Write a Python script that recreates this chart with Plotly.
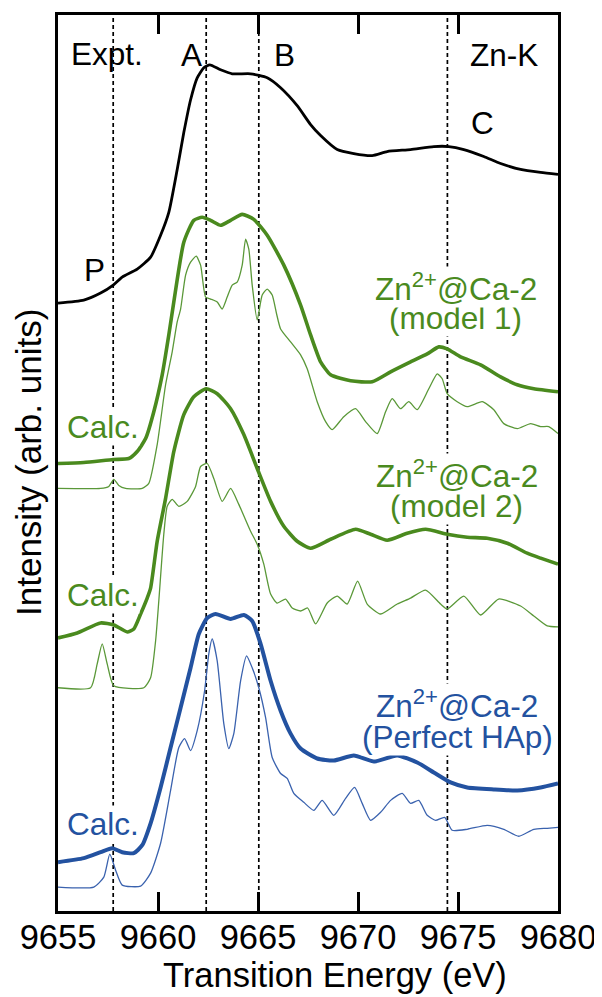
import plotly.graph_objects as go

# ---------------- data (energy in eV, intensity in arb. units) ----------------
expt_e = [9655.0, 9656.29, 9657.13, 9657.76, 9658.21, 9658.96, 9659.63, 9660.13, 9660.54, 9660.96,
          9661.29, 9661.63, 9661.96, 9662.29, 9662.59, 9663.13, 9663.71, 9664.63, 9665.46, 9666.13,
          9666.96, 9667.63, 9668.13, 9668.96, 9669.79, 9670.71, 9671.46, 9672.63, 9673.79, 9674.54,
          9675.29, 9676.29, 9677.13, 9678.13, 9679.13, 9680.0]
expt_i = [6.10, 6.13, 6.20, 6.28, 6.36, 6.44, 6.56, 6.78, 7.01, 7.44,
          7.81, 8.14, 8.36, 8.46, 8.49, 8.44, 8.40, 8.40, 8.36, 8.26,
          8.08, 7.89, 7.78, 7.64, 7.60, 7.58, 7.62, 7.64, 7.67, 7.67,
          7.64, 7.57, 7.50, 7.44, 7.41, 7.39]

m1_broad_e = [9655.0, 9656.29, 9657.76, 9658.54, 9658.96, 9659.38, 9659.79, 9660.21, 9660.54, 9660.79,
              9661.29, 9661.79, 9662.21, 9662.63, 9663.13, 9663.63, 9664.21, 9664.79, 9665.46, 9666.29,
              9667.13, 9667.63, 9668.13, 9668.63, 9669.63, 9670.71, 9671.63, 9672.63, 9673.46, 9674.04,
              9674.46, 9675.13, 9676.13, 9677.13, 9677.96, 9678.79, 9680.0]
m1_broad_i = [4.49, 4.50, 4.53, 4.54, 4.61, 4.74, 5.01, 5.38, 5.78, 6.11,
              6.71, 6.93, 6.96, 6.93, 6.88, 6.93, 6.99, 6.94, 6.78, 6.48,
              6.08, 5.78, 5.51, 5.38, 5.32, 5.31, 5.41, 5.51, 5.59, 5.66,
              5.64, 5.56, 5.48, 5.36, 5.28, 5.24, 5.21]

m1_sharp_e = [9655.0, 9657.13, 9657.54, 9657.79, 9658.04, 9658.38, 9659.21, 9659.54, 9659.96, 9660.38,
              9660.71, 9660.96, 9661.13, 9661.38, 9661.63, 9661.91, 9662.13, 9662.38, 9662.63, 9662.96,
              9663.21, 9663.46, 9663.71, 9663.96, 9664.21, 9664.38, 9664.54, 9664.71, 9664.96, 9665.21,
              9665.46, 9665.71, 9665.93, 9666.13, 9666.63, 9667.13, 9667.46, 9667.96, 9668.38, 9668.71,
              9669.29, 9669.88, 9670.38, 9670.96, 9671.38, 9671.71, 9672.13, 9672.54, 9672.96, 9673.54,
              9673.96, 9674.21, 9674.46, 9674.96, 9675.46, 9676.21, 9676.79, 9677.29, 9677.96, 9678.63,
              9679.13, 9679.54, 9680.0]
m1_sharp_i = [4.24, 4.24, 4.26, 4.33, 4.27, 4.24, 4.24, 4.29, 4.68, 5.28,
              5.61, 5.91, 6.04, 6.38, 6.51, 6.57, 6.48, 6.16, 6.14, 6.11,
              6.04, 6.16, 6.28, 6.31, 6.48, 6.74, 6.64, 6.28, 5.93, 6.18,
              6.24, 6.18, 5.99, 5.84, 5.71, 5.58, 5.44, 5.11, 4.91, 4.83,
              4.96, 5.04, 4.91, 4.79, 5.01, 5.14, 5.04, 5.11, 5.03, 5.24,
              5.39, 5.34, 5.19, 5.11, 5.06, 5.11, 5.03, 4.89, 4.84, 4.89,
              4.86, 4.86, 4.79]

m2_broad_e = [9655.0, 9655.96, 9657.13, 9657.79, 9658.46, 9658.79, 9659.13, 9659.46, 9659.63, 9659.96,
              9660.38, 9660.79, 9661.29, 9661.79, 9662.41, 9662.96, 9663.63, 9664.29, 9664.96, 9665.63,
              9666.29, 9666.96, 9667.63, 9668.63, 9669.88, 9670.63, 9671.46, 9672.46, 9673.38, 9674.46,
              9675.46, 9676.46, 9677.46, 9678.46, 9679.13, 9680.0]
m2_broad_i = [2.74, 2.79, 2.89, 2.87, 2.80, 2.83, 2.98, 3.14, 3.24, 3.71,
              4.14, 4.61, 4.98, 5.16, 5.24, 5.19, 5.04, 4.78, 4.44, 4.11,
              3.86, 3.71, 3.64, 3.73, 3.83, 3.78, 3.72, 3.79, 3.83, 3.78,
              3.75, 3.74, 3.69, 3.59, 3.54, 3.48]

m2_sharp_e = [9655.0, 9656.63, 9656.96, 9657.21, 9657.46, 9657.79, 9659.29, 9659.63, 9659.88, 9660.04,
              9660.29, 9660.46, 9660.71, 9661.04, 9661.46, 9661.88, 9662.13, 9662.46, 9662.79, 9663.21,
              9663.63, 9664.04, 9664.63, 9664.96, 9665.29, 9665.63, 9665.96, 9666.38, 9666.71, 9667.13,
              9667.48, 9667.88, 9668.46, 9668.96, 9669.46, 9669.98, 9670.46, 9671.13, 9671.96, 9672.63,
              9673.38, 9674.13, 9674.46, 9675.29, 9676.13, 9677.03, 9678.13, 9678.79, 9679.46, 9680.0]
m2_sharp_i = [2.24, 2.24, 2.48, 2.68, 2.48, 2.26, 2.24, 2.34, 2.71, 3.11,
              3.78, 4.06, 4.13, 4.06, 4.11, 4.26, 4.46, 4.49, 4.34, 4.11,
              4.24, 4.08, 3.81, 3.68, 3.48, 3.18, 3.09, 3.13, 3.04, 3.01,
              3.04, 2.88, 3.09, 3.16, 3.08, 3.31, 3.08, 2.98, 3.08, 3.14,
              3.22, 3.08, 3.03, 3.16, 2.97, 3.13, 3.06, 2.96, 2.86, 2.85]

hap_broad_e = [9655.0, 9656.29, 9657.13, 9657.71, 9658.21, 9658.79, 9659.21, 9659.63, 9660.13, 9660.63,
               9661.13, 9661.63, 9662.04, 9662.46, 9662.88, 9663.63, 9664.29, 9664.71, 9665.13, 9665.63,
               9666.13, 9666.63, 9667.13, 9667.96, 9668.79, 9669.79, 9670.79, 9671.96, 9672.96, 9673.79,
               9674.63, 9675.46, 9676.79, 9677.96, 9679.13, 9680.0]
hap_broad_i = [0.49, 0.53, 0.59, 0.63, 0.59, 0.58, 0.66, 0.88, 1.24, 1.64,
               2.04, 2.44, 2.78, 2.94, 2.98, 2.93, 2.97, 2.91, 2.68, 2.31,
               2.01, 1.78, 1.63, 1.53, 1.51, 1.56, 1.50, 1.56, 1.49, 1.39,
               1.29, 1.24, 1.22, 1.21, 1.24, 1.28]

hap_sharp_e = [9655.0, 9656.79, 9657.29, 9657.59, 9657.88, 9658.21, 9659.13, 9659.63, 9660.13, 9660.63,
               9661.04, 9661.33, 9661.63, 9661.96, 9662.33, 9662.54, 9662.71, 9662.96, 9663.29, 9663.54,
               9663.79, 9664.13, 9664.43, 9664.71, 9665.04, 9665.38, 9665.71, 9666.13, 9666.46, 9666.79,
               9667.29, 9667.79, 9668.21, 9668.79, 9669.38, 9669.83, 9670.21, 9670.63, 9671.13, 9671.63,
               9672.21, 9672.63, 9673.04, 9673.46, 9673.88, 9674.33, 9674.71, 9675.46, 9676.46, 9677.29,
               9678.04, 9678.79, 9679.46, 9680.0]
hap_sharp_i = [0.24, 0.24, 0.34, 0.57, 0.41, 0.26, 0.25, 0.38, 0.68, 1.21,
               1.64, 1.73, 1.61, 1.81, 2.21, 2.58, 2.73, 2.51, 1.88, 1.63,
               1.78, 2.31, 2.56, 2.44, 2.24, 1.94, 1.54, 1.38, 1.33, 1.18,
               1.09, 1.01, 1.11, 0.96, 1.13, 1.24, 1.08, 0.91, 0.99, 1.11,
               1.18, 1.08, 1.11, 0.96, 0.91, 0.94, 0.81, 0.82, 0.86, 0.82,
               0.75, 0.82, 0.83, 0.84]

feature_energies = [9657.76, 9662.41, 9665.04, 9674.47]   # P, A, B, C
tick_values = [9655, 9660, 9665, 9670, 9675, 9680]
tick_labels = ["9655", "9660", "9665", "9670", "9675", "9680"]

# ---------------- styling ----------------
FONT = "Liberation Sans, Arial, sans-serif"
BLACK = "#000000"
GREEN = "#4a8a1e"
GREEN_T = "#5a9838"
BLUE = "#2352a0"
BLUE_T = "#3a62ae"

fig = go.Figure()

def add_curve(e, i, color, width):
    fig.add_trace(go.Scatter(x=e, y=i, mode="lines",
                             line=dict(color=color, width=width, shape="spline", smoothing=0.55),
                             hoverinfo="skip", showlegend=False))

add_curve(expt_e, expt_i, BLACK, 2.8)
add_curve(m1_sharp_e, m1_sharp_i, GREEN_T, 1.3)
add_curve(m1_broad_e, m1_broad_i, GREEN, 3.6)
add_curve(m2_sharp_e, m2_sharp_i, GREEN_T, 1.3)
add_curve(m2_broad_e, m2_broad_i, GREEN, 3.6)
add_curve(hap_sharp_e, hap_sharp_i, BLUE_T, 1.3)
add_curve(hap_broad_e, hap_broad_i, BLUE, 4.0)

for fe in feature_energies:
    fig.add_shape(type="line", xref="x", yref="paper", x0=fe, x1=fe, y0=0, y1=1,
                  line=dict(color=BLACK, width=1.7, dash="4px,3px"), layer="below")

def label(text, x, y, color, size=31.5, bg=None):
    kw = dict(bgcolor=bg, borderpad=0) if bg else {}
    fig.add_annotation(x=x, y=y, xref="x", yref="y", text=text, showarrow=False,
                       xanchor="center", yanchor="middle",
                       font=dict(family=FONT, size=size, color=color), **kw)

label("Expt.", 9657.43, 8.60, BLACK)
label("P", 9656.83, 6.43, BLACK)
label("A", 9661.68, 8.59, BLACK)
label("B", 9666.33, 8.59, BLACK)
label("Zn-K", 9677.28, 8.59, BLACK)
label("C", 9676.23, 7.91, BLACK)

label("(model 1)", 9674.88, 5.95, GREEN, bg="white")
label("Zn<sup>2+</sup>@Ca-2", 9674.88, 6.26, GREEN, bg="white")
label("Calc.", 9657.23, 4.86, GREEN, bg="white")

label("(model 2)", 9674.90, 4.06, GREEN, bg="white")
label("Zn<sup>2+</sup>@Ca-2", 9674.93, 4.38, GREEN, bg="white")
label("Calc.", 9657.23, 3.17, GREEN, bg="white")

label("(Perfect HAp)", 9674.95, 1.75, BLUE, bg="white")
label("Zn<sup>2+</sup>@Ca-2", 9674.93, 2.08, BLUE, bg="white")
label("Calc.", 9657.23, 0.87, BLUE, bg="white")

# axis titles
fig.add_annotation(text="Transition Energy (eV)", xref="paper", yref="paper", x=0.554, y=-0.0712,
                   showarrow=False, xanchor="center", yanchor="middle",
                   font=dict(family=FONT, size=34.5, color=BLACK))
fig.add_annotation(text="Intensity (arb. units)", xref="paper", yref="paper", x=-0.06, y=0.5,
                   showarrow=False, xanchor="center", yanchor="middle", textangle=-90,
                   font=dict(family=FONT, size=35, color=BLACK))

# the page body adds an 8px margin, so the figure is sized to fill the rest of the window
fig.update_layout(
    width=594, height=989,
    margin=dict(l=50, r=44, t=4, b=86),
    paper_bgcolor="white", plot_bgcolor="white",
    showlegend=False,
    xaxis=dict(range=[9655, 9680], tickvals=tick_values, ticktext=tick_labels,
               ticks="inside", ticklen=19, tickwidth=3, tickcolor=BLACK,
               showline=True, linewidth=3, linecolor=BLACK, mirror="ticks",
               showgrid=False, zeroline=False, ticklabelstandoff=-6,
               tickfont=dict(family=FONT, size=34.5, color=BLACK)),
    yaxis=dict(range=[0, 8.99], showline=True, linewidth=3, linecolor=BLACK, mirror=True,
               ticks="", showticklabels=False, showgrid=False, zeroline=False),
)

fig.write_html("out.html")
